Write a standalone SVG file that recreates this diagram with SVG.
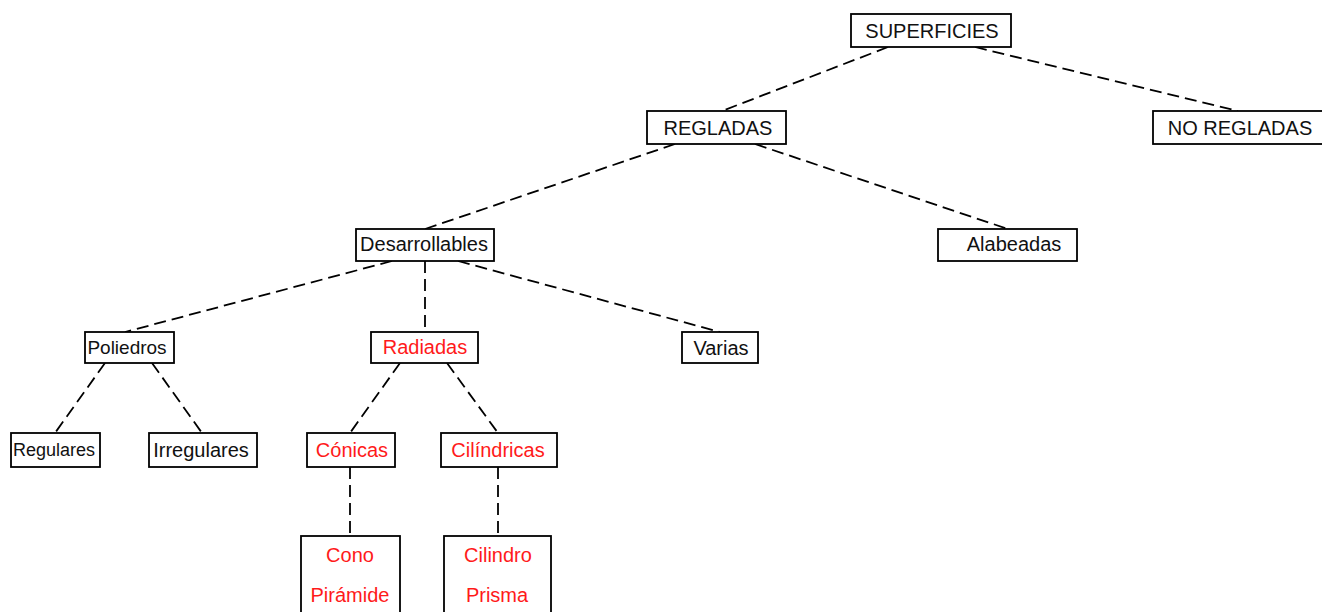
<svg xmlns="http://www.w3.org/2000/svg" width="1322" height="612" viewBox="0 0 1322 612">
<style>
rect{fill:#fff;stroke:#000;stroke-width:1.8}
text{font-family:"Liberation Sans",Arial,sans-serif;font-size:20px;fill:#111;text-anchor:middle}
.r{fill:#ff1a1a}
#connectors line{stroke:#000;stroke-width:1.8;stroke-dasharray:12 6;fill:none}
</style>
<rect x="0" y="0" width="1322" height="612" style="stroke:none"/>
<g id="connectors">
<line x1="888" y1="47" x2="722" y2="111"/>
<line x1="975" y1="47" x2="1238" y2="111"/>
<line x1="675" y1="144" x2="425" y2="229"/>
<line x1="755" y1="144" x2="1008" y2="229"/>
<line x1="392" y1="261" x2="125" y2="332"/>
<line x1="425" y1="261" x2="425" y2="332"/>
<line x1="458" y1="261" x2="720" y2="332"/>
<line x1="105" y1="363" x2="55" y2="433"/>
<line x1="152" y1="363" x2="202" y2="433"/>
<line x1="400" y1="363" x2="350" y2="433"/>
<line x1="447" y1="363" x2="498" y2="433"/>
<line x1="350" y1="467" x2="350" y2="536"/>
<line x1="498" y1="467" x2="498" y2="536"/>
</g>
<g id="superficies"><rect x="851" y="14" width="160" height="33"/><text x="932" y="38">SUPERFICIES</text></g>
<g id="regladas"><rect x="647" y="111" width="139" height="33"/><text x="718" y="135">REGLADAS</text></g>
<g id="noregladas"><rect x="1153" y="111" width="172" height="33"/><text x="1240" y="135">NO REGLADAS</text></g>
<g id="desarrollables"><rect x="356" y="229" width="138" height="32"/><text x="424" y="251">Desarrollables</text></g>
<g id="alabeadas"><rect x="938" y="229" width="139" height="32"/><text x="1014" y="251">Alabeadas</text></g>
<g id="poliedros"><rect x="85" y="332" width="89" height="31"/><text x="127" y="354" style="font-size:19px">Poliedros</text></g>
<g id="radiadas"><rect x="371" y="332" width="107" height="31"/><text x="425" y="354" class="r">Radiadas</text></g>
<g id="varias"><rect x="682" y="332" width="76" height="31"/><text x="721" y="355">Varias</text></g>
<g id="regulares"><rect x="11" y="433" width="89" height="34"/><text x="54" y="456" style="font-size:18px">Regulares</text></g>
<g id="irregulares"><rect x="149" y="433" width="108" height="34"/><text x="201" y="457">Irregulares</text></g>
<g id="conicas"><rect x="307" y="433" width="88" height="34"/><text x="352" y="457" class="r">Cónicas</text></g>
<g id="cilindricas"><rect x="441" y="433" width="116" height="34"/><text x="498" y="457" class="r">Cilíndricas</text></g>
<g id="cono"><rect x="301" y="536" width="99" height="100"/><text x="350" y="562" class="r">Cono</text><text x="350" y="602" class="r">Pirámide</text></g>
<g id="cilindro"><rect x="444" y="536" width="107" height="100"/><text x="498" y="562" class="r">Cilindro</text><text x="497" y="602" class="r">Prisma</text></g>
</svg>
